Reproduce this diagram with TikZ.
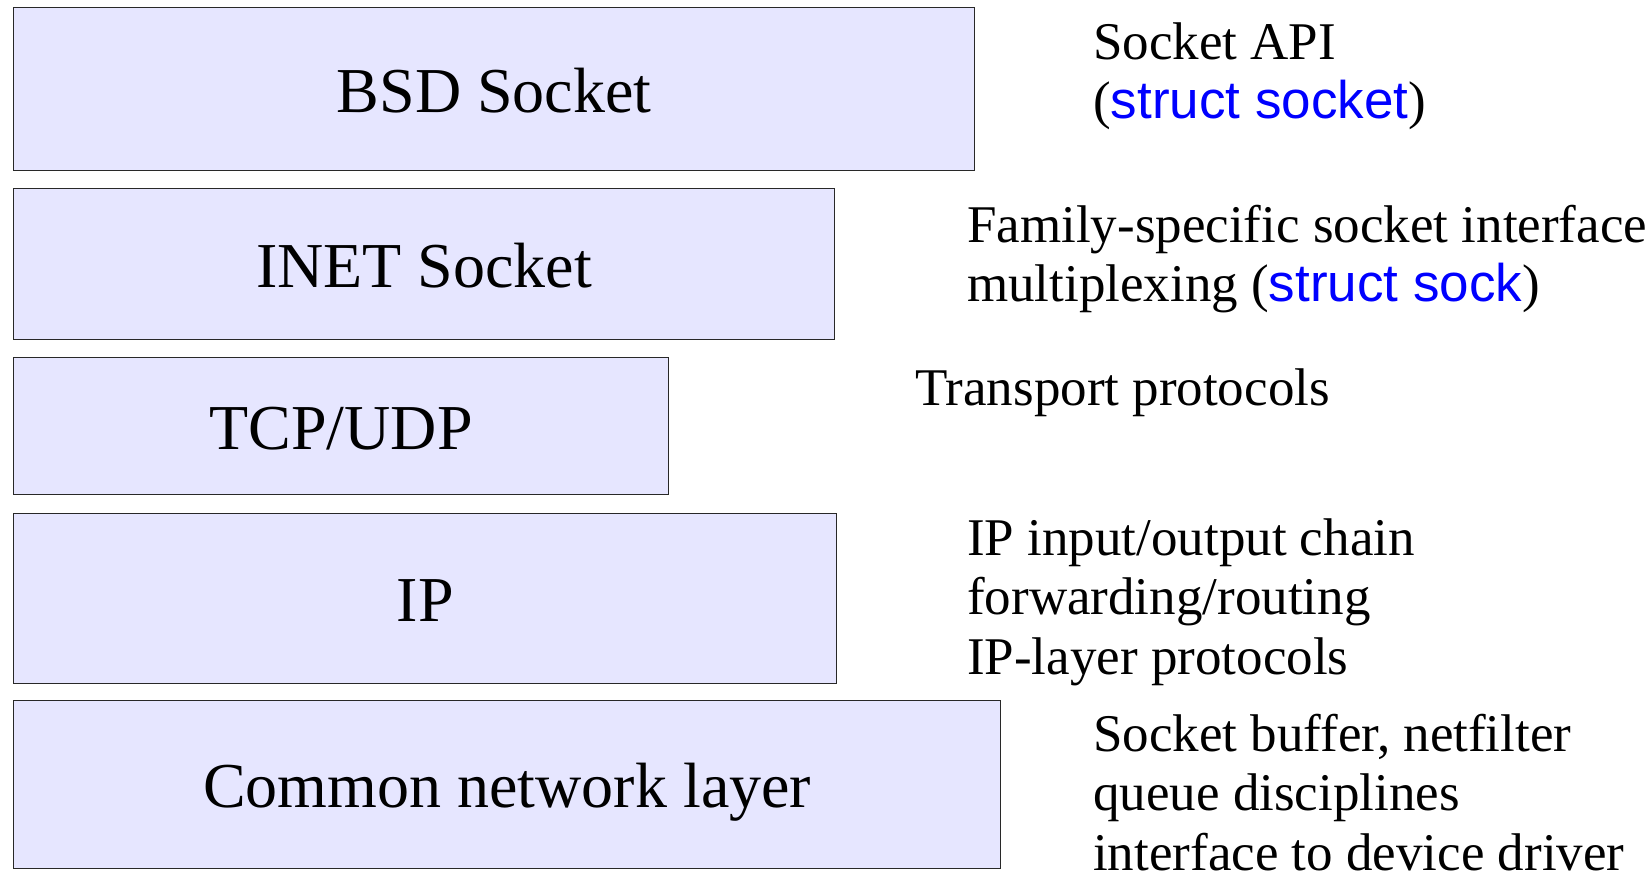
\documentclass[tikz,border=0pt]{standalone}
\usepackage{fontspec}
\setmainfont{Liberation Serif}
\newfontfamily\hvfont{Liberation Sans}
\definecolor{layerfill}{RGB}{230,230,255}
\definecolor{layerdraw}{RGB}{40,40,40}
\definecolor{structblue}{RGB}{0,0,255}
\begin{document}
\begin{tikzpicture}[x=1pt,y=-1pt,
  layer/.style={draw=layerdraw, line width=1.4pt, fill=layerfill, rectangle,
    anchor=north west, inner sep=0pt, font=\fontsize{64}{64}\selectfont,
    text height=46pt, text depth=0pt},
  note/.style={anchor=base west, align=left, inner sep=0pt,
    font=\fontsize{53}{59.5}\selectfont}]
\useasboundingbox (0,0) rectangle (1652,873);
\node[layer, minimum width=961pt, minimum height=163pt] (bsd)  at (13,7)   {BSD Socket};
\node[layer, minimum width=821pt, minimum height=151pt] (inet) at (13,188) {INET Socket};
\node[layer, minimum width=655pt, minimum height=137pt] (tcp)  at (13,357) {TCP/UDP};
\node[layer, minimum width=823pt, minimum height=170pt] (ip)   at (13,513) {IP};
\node[layer, minimum width=987pt, minimum height=168pt] (cnl)  at (13,700) {Common network layer};

% base anchor of a multi-line node is the baseline of its last line
\node[note] (n1) at (1093,118.5) {Socket API\\({\hvfont\color{structblue}struct socket})};
\node[note] (n2) at (967,301.5)  {Family-specific socket interface\\multiplexing ({\hvfont\color{structblue}struct sock})};
\node[note] (n3) at (915,405)    {Transport protocols};
\node[note] (n4) at (967,674)    {IP input/output chain\\forwarding/routing\\IP-layer protocols};
\node[note] (n5) at (1093,870) {Socket buffer, netfilter\\queue disciplines\\interface to device driver};
\end{tikzpicture}
\end{document}
